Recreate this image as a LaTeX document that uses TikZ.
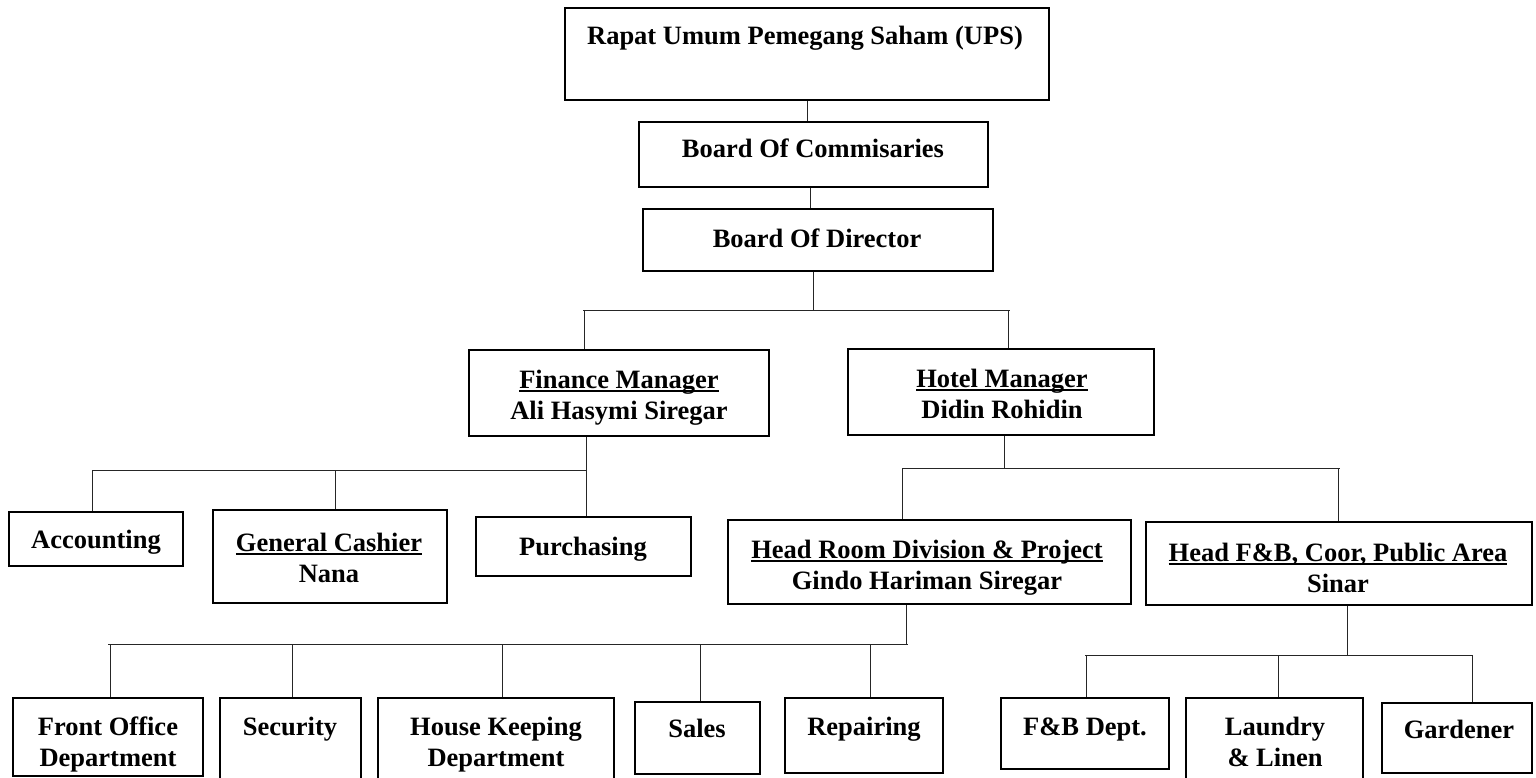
\documentclass[tikz,border=0pt]{standalone}
\usepackage{fontspec}
\setmainfont{Liberation Serif}
\newsavebox\ulbox
\newcommand\ulx[1]{\sbox\ulbox{#1}\rlap{\rule[-3.5pt]{\wd\ulbox}{2pt}}\usebox\ulbox}
\begin{document}
\begin{tikzpicture}[x=1pt,y=-1pt,
  box/.style={draw=black, line width=2.2pt, inner sep=0pt, rectangle},
  lbl/.style={font=\fontsize{26.5}{31}\selectfont\bfseries, align=center, inner sep=0pt, anchor=base},
  conn/.style={line width=1pt, draw=black!85}]
\useasboundingbox (0,0) rectangle (1536,778);
\clip (0,0) rectangle (1536,778);
% boxes
\node[box, minimum width=484pt, minimum height=92pt] (rups) at (807,54) {};
\node[box, minimum width=349pt, minimum height=65pt] (boc) at (813.5,154.5) {};
\node[box, minimum width=350pt, minimum height=62pt] (bod) at (818,240) {};
\node[box, minimum width=300pt, minimum height=86pt] (fin) at (619,393) {};
\node[box, minimum width=306pt, minimum height=86pt] (hot) at (1001,392) {};
\node[box, minimum width=174pt, minimum height=54pt] (acc) at (96,539) {};
\node[box, minimum width=234pt, minimum height=93pt] (gc) at (330,556.5) {};
\node[box, minimum width=215pt, minimum height=59pt] (pur) at (583.5,546.5) {};
\node[box, minimum width=403pt, minimum height=84pt] (hr) at (929.5,562) {};
\node[box, minimum width=386pt, minimum height=83pt] (hfb) at (1339,563.5) {};
\node[box, minimum width=190pt, minimum height=78pt] (fo) at (108,737) {};
\node[box, minimum width=141pt, minimum height=92pt] (sec) at (290.5,744) {};
\node[box, minimum width=236pt, minimum height=92pt] (hk) at (496,744) {};
\node[box, minimum width=125pt, minimum height=72pt] (sal) at (697.5,738) {};
\node[box, minimum width=158pt, minimum height=75pt] (rep) at (864,735.5) {};
\node[box, minimum width=168pt, minimum height=71pt] (fbd) at (1085,733.5) {};
\node[box, minimum width=177pt, minimum height=92pt] (lau) at (1274.5,744) {};
\node[box, minimum width=150pt, minimum height=70pt] (gar) at (1457,738) {};
% labels (anchor=base is the baseline of the last line)
\node[lbl] (rupsT) at (805,45) {Rapat Umum Pemegang Saham (UPS)};
\node[lbl] (bocT) at (813,158) {Board Of Commisaries};
\node[lbl] (bodT) at (817,247) {Board Of Director};
\node[lbl] (finT) at (619,419) {\ulx{Finance Manager}\\Ali Hasymi Siregar};
\node[lbl] (hotT) at (1002,418) {\ulx{Hotel Manager}\\Didin Rohidin};
\node[lbl] (accT) at (96,548) {Accounting};
\node[lbl] (gcT) at (329,582) {\ulx{General Cashier}\\Nana};
\node[lbl] (purT) at (583,555) {Purchasing};
\node[lbl] (hrT) at (927,589) {\ulx{Head Room Division \& Project}\\Gindo Hariman Siregar};
\node[lbl] (hfbT) at (1338,592) {\ulx{Head F\&B, Coor, Public Area}\\Sinar};
\node[lbl] (foT) at (108,766) {Front Office\\Department};
\node[lbl] (secT) at (290,735) {Security};
\node[lbl] (hkT) at (496,766) {House Keeping\\Department};
\node[lbl] (salT) at (697,737) {Sales};
\node[lbl] (repT) at (864,735) {Repairing};
\node[lbl] (fbdT) at (1085,735) {F\&B Dept.};
\node[lbl] (lauT) at (1275,766) {Laundry\\\& Linen};
\node[lbl] (garT) at (1459,738) {Gardener};
% top connectors
\draw[conn] (rups.south) -- (rups.south |- boc.north);
\draw[conn] ([xshift=-3.5pt]boc.south) -- ([xshift=-3.5pt]boc.south |- bod.north);
% bus 1
\coordinate (j1) at (813,310);
\coordinate (j1a) at (583,310);
\coordinate (j1b) at (1010,310);
\coordinate (d1f) at (584,310);
\coordinate (d1h) at (1008,310);
\draw[conn] ([xshift=-5pt]bod.south) -- (j1);
\draw[conn] (j1a) -- (j1b);
\draw[conn] (d1f) -- (d1f |- fin.north);
\draw[conn] (d1h) -- (d1h |- hot.north);
% bus 2 (finance)
\coordinate (j2) at (586,470);
\coordinate (j2a) at (92,470);
\coordinate (d2g) at (335,470);
\draw[conn] (j2 |- fin.south) -- (j2 |- pur.north);
\draw[conn] (j2a) -- (j2);
\draw[conn] (j2a) -- (j2a |- acc.north);
\draw[conn] (d2g) -- (d2g |- gc.north);
% bus 3 (hotel)
\coordinate (j3) at (1004,468);
\coordinate (j3a) at (902,468);
\coordinate (j3b) at (1340,468);
\coordinate (d3f) at (1338,468);
\draw[conn] (j3 |- hot.south) -- (j3);
\draw[conn] (j3a) -- (j3b);
\draw[conn] (j3a) -- (j3a |- hr.north);
\draw[conn] (d3f) -- (d3f |- hfb.north);
% bus 4 (room division)
\coordinate (j4) at (906,644);
\coordinate (j4a) at (108,644);
\coordinate (j4b) at (908,644);
\coordinate (d4a) at (110,644);
\coordinate (d4b) at (292,644);
\coordinate (d4c) at (502,644);
\coordinate (d4d) at (700,644);
\coordinate (d4e) at (870,644);
\draw[conn] (j4 |- hr.south) -- (j4);
\draw[conn] (j4a) -- (j4b);
\draw[conn] (d4a) -- (d4a |- fo.north);
\draw[conn] (d4b) -- (d4b |- sec.north);
\draw[conn] (d4c) -- (d4c |- hk.north);
\draw[conn] (d4d) -- (d4d |- sal.north);
\draw[conn] (d4e) -- (d4e |- rep.north);
% bus 5 (F&B)
\coordinate (j5) at (1347,655);
\coordinate (j5a) at (1085,655);
\coordinate (j5b) at (1473,655);
\coordinate (d5a) at (1086,655);
\coordinate (d5b) at (1278,655);
\coordinate (d5c) at (1472,655);
\draw[conn] (j5 |- hfb.south) -- (j5);
\draw[conn] (j5a) -- (j5b);
\draw[conn] (d5a) -- (d5a |- fbd.north);
\draw[conn] (d5b) -- (d5b |- lau.north);
\draw[conn] (d5c) -- (d5c |- gar.north);
\end{tikzpicture}
\end{document}
